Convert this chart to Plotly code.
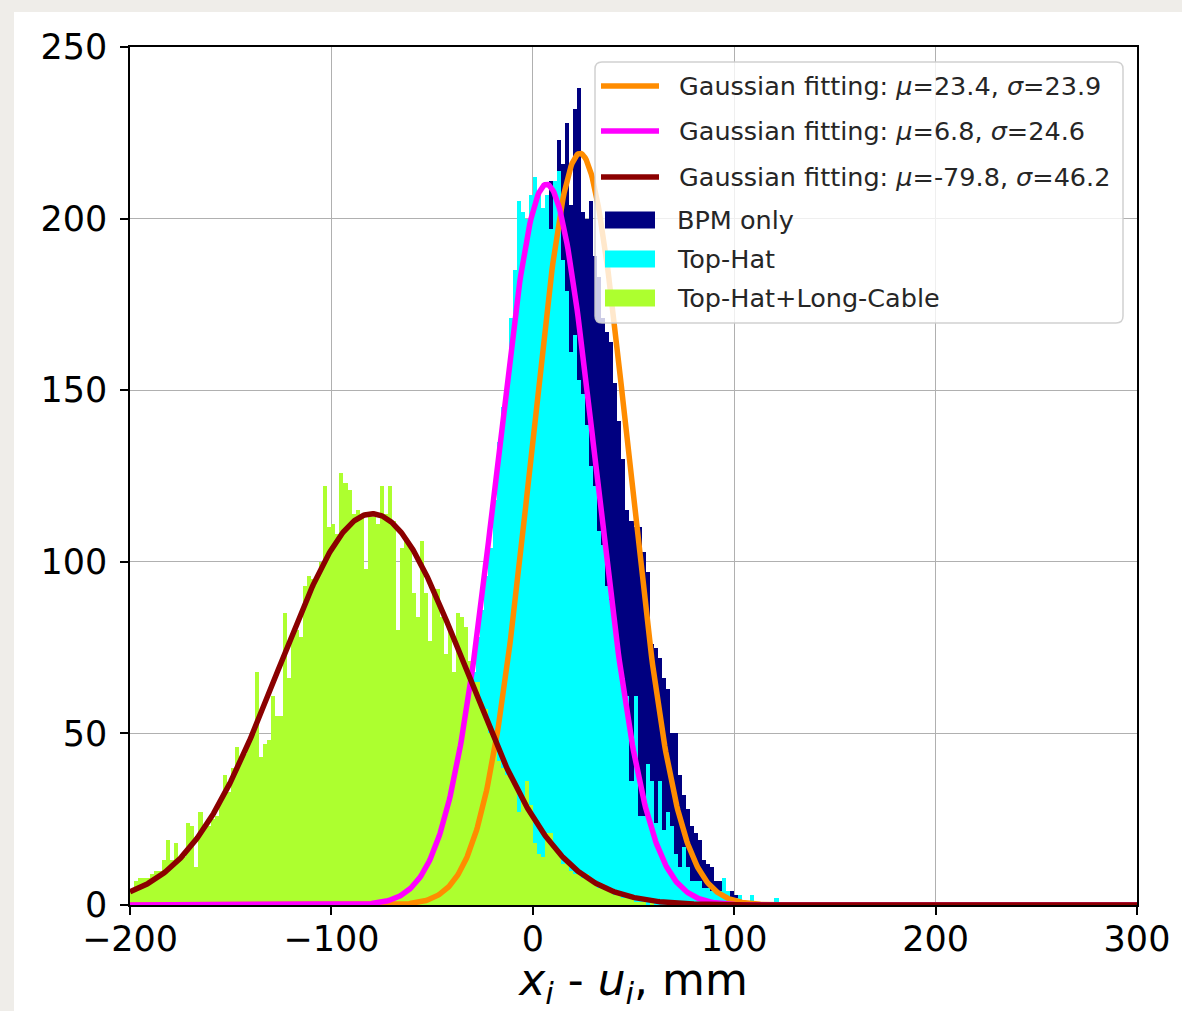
import numpy as np
import plotly.graph_objects as go

# ---------------- data ----------------
bin_width = 2.0

# Top-Hat+Long-Cable histogram, bins starting at -200
green_start = -200
green_counts = [
    4, 7, 8, 8, 8, 9, 10, 10, 13, 19,
    13, 18, 13, 14, 24, 23, 11, 27, 23, 23,
    25, 26, 31, 38, 33, 40, 46, 42, 44, 48,
    50, 68, 43, 47, 48, 61, 55, 55, 85, 66,
    79, 80, 78, 93, 96, 95, 95, 100, 122, 110,
    111, 108, 126, 123, 121, 114, 115, 114, 98, 114,
    113, 111, 122, 114, 122, 112, 80, 104, 106, 105,
    91, 84, 106, 91, 77, 92, 92, 84, 73, 80,
    68, 85, 84, 81, 71, 65, 65, 59, 57, 50,
    45, 42, 40, 38, 37, 36, 27, 31, 36, 29,
    18, 15, 14, 21, 21, 17, 16, 12, 13, 10,
    9, 10, 8, 9, 7, 6, 5, 6, 5, 4,
    3, 3, 2, 2, 2, 1, 1, 1, 0, 1,
]

# Top-Hat histogram, bins starting at -60
cyan_start = -60
cyan_counts = [
    3, 4, 5, 7, 9, 13, 16, 19, 24, 29,
    33, 40, 46, 54, 60, 68, 78, 86, 96, 104,
    118, 135, 145, 152, 171, 185, 205, 202, 200, 207,
    212, 208, 203, 207, 197, 211, 214, 188, 179, 161,
    166, 153, 149, 140, 128, 122, 109, 105, 93, 89,
    80, 72, 66, 61, 36, 61, 26, 26, 41, 36,
    24, 36, 22, 27, 23, 15, 11, 17, 11, 7,
    7, 7, 5, 5, 4, 4, 4, 8, 4, 2,
    2, 3, 1, 1, 3, 1, 0, 1, 0, 1,
    2,
]

# BPM only histogram, bins starting at -50
navy_start = -50
navy_counts = [
    1, 2, 3, 4, 5, 6, 8, 10, 12, 15,
    18, 22, 26, 31, 36, 42, 49, 55, 63, 72,
    82, 91, 101, 112, 124, 135, 146, 157, 172, 211,
    211, 223, 216, 228, 204, 232, 238, 202, 200, 205,
    189, 183, 171, 167, 164, 152, 141, 130, 115, 112,
    110, 110, 103, 97, 76, 75, 72, 66, 63, 50,
    50, 38, 32, 28, 23, 21, 19, 13, 12, 11,
    7, 7, 7, 4, 4, 3, 2, 1, 1, 1,
    0,
]

hist_names = ["BPM only", "Top-Hat", "Top-Hat+Long-Cable"]

# Gaussian fits (parameters from the legend, peak heights)
fit_mu = [23.4, 6.8, -79.8]
fit_sigma = [23.9, 24.6, 46.2]
fit_peak = [219, 210, 114]

x_ticks = [-200, -100, 0, 100, 200, 300]
y_ticks = [0, 50, 100, 150, 200, 250]
x_range = [-200, 300]
y_range = [0, 250]

# ---------------- styles ----------------
hist_colors = ["#000080", "#00FFFF", "#ADFF2F"]
fit_colors = ["#FF8C00", "#FF00FF", "#8B0000"]
FONT = "DejaVu Sans"

W, H = 1182, 1011
PL, PR, PT, PB = 130, 1137, 47, 905


def pxp(px):
    return (px - PL) / (PR - PL)


def pyp(py):
    return (PB - py) / (PB - PT)


def centers(start, counts):
    return [start + bin_width * (i + 0.5) for i in range(len(counts))]


fig = go.Figure()

for name, start, counts, col in [
    (hist_names[0], navy_start, navy_counts, hist_colors[0]),
    (hist_names[1], cyan_start, cyan_counts, hist_colors[1]),
    (hist_names[2], green_start, green_counts, hist_colors[2]),
]:
    fig.add_trace(go.Bar(
        x=centers(start, counts), y=counts, width=bin_width,
        marker=dict(color=col, line=dict(width=0)),
        name=name, showlegend=False,
    ))

xs = np.linspace(x_range[0], x_range[1], 1001)
fit_labels = []
for mu, sg, pk, col in zip(fit_mu, fit_sigma, fit_peak, fit_colors):
    ys = pk * np.exp(-(xs - mu) ** 2 / (2 * sg ** 2))
    lab = f"Gaussian fitting: <i>μ</i>={mu}, <i>σ</i>={sg}"
    fit_labels.append(lab)
    fig.add_trace(go.Scatter(x=xs, y=ys, mode="lines",
                             line=dict(color=col, width=5.5),
                             name=lab, showlegend=False))

# ---------------- custom matplotlib-like legend ----------------
shapes = []
# white figure area over a light textured-grey page
shapes.append(dict(type="rect", xref="paper", yref="paper",
                   x0=pxp(14), x1=pxp(W + 5), y0=pyp(H + 5), y1=pyp(12),
                   fillcolor="white", line=dict(width=0), layer="below"))

bx0, bx1, by0, by1, r = 595, 1123, 62, 323, 7
rx, ry = r / (PR - PL), r / (PB - PT)
X0, X1, Y0, Y1 = pxp(bx0), pxp(bx1), pyp(by1), pyp(by0)
path = (f"M {X0+rx},{Y1} L {X1-rx},{Y1} Q {X1},{Y1} {X1},{Y1-ry} "
        f"L {X1},{Y0+ry} Q {X1},{Y0} {X1-rx},{Y0} L {X0+rx},{Y0} "
        f"Q {X0},{Y0} {X0},{Y0+ry} L {X0},{Y1-ry} Q {X0},{Y1} {X0+rx},{Y1} Z")
shapes.append(dict(type="path", xref="paper", yref="paper", path=path,
                   fillcolor="rgba(255,255,255,0.8)",
                   line=dict(color="rgba(204,204,204,0.9)", width=1.5), layer="above"))

row_y = [86, 131, 177, 220, 259, 298]
annotations = []
for i, (lab, col) in enumerate(zip(fit_labels, fit_colors)):
    shapes.append(dict(type="line", xref="paper", yref="paper",
                       x0=pxp(601), x1=pxp(659), y0=pyp(row_y[i]), y1=pyp(row_y[i]),
                       line=dict(color=col, width=5.5), layer="above"))
    annotations.append(dict(text=lab, x=pxp(677), y=pyp(row_y[i]), xref="paper", yref="paper",
                            xanchor="left", yanchor="middle", showarrow=False,
                            font=dict(family=FONT, size=25.5, color="#262626")))
for j, (name, col) in enumerate(zip(hist_names, hist_colors)):
    yc = row_y[3 + j]
    shapes.append(dict(type="rect", xref="paper", yref="paper",
                       x0=pxp(605), x1=pxp(655), y0=pyp(yc + 8.5), y1=pyp(yc - 8.5),
                       fillcolor=col, line=dict(width=0), layer="above"))
    annotations.append(dict(text=name, x=pxp(675), y=pyp(yc), xref="paper", yref="paper",
                            xanchor="left", yanchor="middle", showarrow=False,
                            font=dict(family=FONT, size=25.5, color="#262626")))

axis_common = dict(
    showline=True, mirror=True, linecolor="black", linewidth=1.5,
    ticks="outside", ticklen=8, tickwidth=1.5, tickcolor="black",
    showgrid=True, gridcolor="#b0b0b0", gridwidth=1.2,
    zeroline=False, layer="above traces", automargin=False,
    tickfont=dict(family=FONT, size=35, color="black"),
)

fig.update_layout(
    width=W, height=H,
    margin=dict(l=PL, r=W - PR, t=PT, b=H - PB),
    paper_bgcolor="#efede9", plot_bgcolor="white",
    barmode="overlay", bargap=0,
    showlegend=False,
    shapes=shapes, annotations=annotations,
    xaxis=dict(range=x_range, tickmode="array", tickvals=x_ticks,
               ticktext=[("−" + str(abs(v))) if v < 0 else str(v) for v in x_ticks],
               ticklabelstandoff=-6,
               title=dict(text="<i>x</i><sub><i>i</i></sub> - <i>u</i><sub><i>i</i></sub>, mm",
                          font=dict(family=FONT, size=44, color="black"), standoff=16),
               **axis_common),
    yaxis=dict(range=y_range, tickmode="array", tickvals=y_ticks,
               ticklabelstandoff=6, **axis_common),
)

fig.write_html("out.html")
